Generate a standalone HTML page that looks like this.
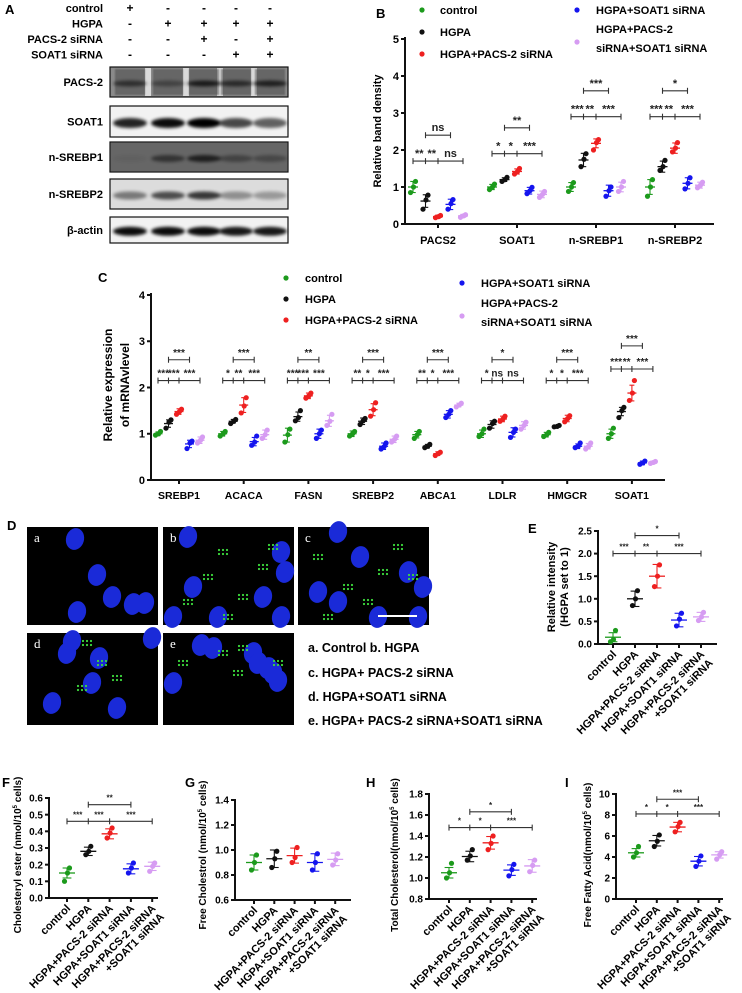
<!DOCTYPE html>
<html><head><meta charset="utf-8">
<style>
html,body{margin:0;padding:0;background:#fff;}
svg{display:block;font-family:"Liberation Sans",Arial,sans-serif;font-weight:bold;}
</style></head>
<body>
<svg id="fig" width="742" height="993" viewBox="0 0 742 993" xmlns="http://www.w3.org/2000/svg">
<defs>
<filter id="blur1" x="-20%" y="-50%" width="140%" height="200%"><feGaussianBlur stdDeviation="1.6"/></filter>
<filter id="blurc"><feGaussianBlur stdDeviation="0.8"/></filter>
</defs>
<g id="panelA"></g>
<g id="panelB"></g>
<g id="panelC"></g>
<g id="panelD"></g>
<g id="panelE"></g>
<g id="panelF"></g>
<g id="panelG"></g>
<g id="panelH"></g>
<g id="panelI"></g>
</svg>
<script>
// ===== shared =====
const groupColors = ["#1c9a1c", "#111111", "#ee2020", "#1515ee", "#d69cf2"];
const groupNames = ["control", "HGPA", "HGPA+PACS-2 siRNA", "HGPA+SOAT1 siRNA", "HGPA+PACS-2 siRNA+SOAT1 siRNA"];

// ===== Panel B data =====
const bCategories = ["PACS2", "SOAT1", "n-SREBP1", "n-SREBP2"];
const bMeans = [[1.0,0.62,0.2,0.53,0.22],[1.0,1.2,1.42,0.9,0.8],[1.0,1.73,2.18,0.9,1.0],[1.0,1.55,2.05,1.1,1.05]];
const bSD = [[0.15,0.17,0.04,0.14,0.04],[0.07,0.05,0.07,0.09,0.09],[0.12,0.18,0.12,0.15,0.13],[0.2,0.15,0.14,0.15,0.08]];
const bPoints = [
 [[0.85,1.0,1.15],[0.4,0.65,0.78],[0.17,0.2,0.23],[0.4,0.55,0.66],[0.18,0.22,0.25]],
 [[0.93,1.0,1.08],[1.15,1.2,1.26],[1.35,1.42,1.5],[0.82,0.9,0.99],[0.72,0.8,0.88]],
 [[0.88,1.0,1.12],[1.55,1.75,1.9],[2.0,2.2,2.28],[0.75,0.9,1.0],[0.88,1.0,1.15]],
 [[0.75,1.0,1.2],[1.45,1.55,1.72],[1.95,2.05,2.2],[0.95,1.1,1.25],[0.98,1.05,1.13]]];
const bTicks = [0,1,2,3,4,5];
const bSig = [
 {low:1.7, lowLabels:["**","**","ns"], up:2.4, upLabel:"ns"},
 {low:1.9, lowLabels:["*","*","***"], up:2.6, upLabel:"**"},
 {low:2.9, lowLabels:["***","**","***"], up:3.6, upLabel:"***"},
 {low:2.9, lowLabels:["***","**","***"], up:3.6, upLabel:"*"}];

// ===== Panel C data =====
const cCategories = ["SREBP1","ACACA","FASN","SREBP2","ABCA1","LDLR","HMGCR","SOAT1"];
const cMeans = [[1,1.22,1.48,0.78,0.86],[1,1.27,1.62,0.83,0.98],[0.97,1.37,1.82,1.0,1.28],[1,1.27,1.52,0.73,0.88],
 [0.98,0.73,0.57,1.42,1.62],[1,1.2,1.32,1.03,1.18],[0.98,1.16,1.33,0.73,0.73],[1,1.48,1.88,0.37,0.38]];
const cSD = [[0.04,0.08,0.06,0.08,0.07],[0.05,0.04,0.16,0.09,0.1],[0.15,0.1,0.06,0.1,0.12],[0.06,0.07,0.13,0.07,0.07],
 [0.07,0.04,0.04,0.08,0.04],[0.08,0.08,0.06,0.1,0.08],[0.05,0.02,0.07,0.05,0.06],[0.1,0.09,0.17,0.04,0.03]];
const cPoints = [
 [[0.97,1.0,1.05],[1.12,1.25,1.3],[1.42,1.48,1.53],[0.68,0.8,0.84],[0.8,0.86,0.93]],
 [[0.95,1.0,1.05],[1.22,1.27,1.31],[1.45,1.6,1.78],[0.75,0.82,0.95],[0.9,0.98,1.08]],
 [[0.82,0.98,1.1],[1.28,1.35,1.5],[1.77,1.82,1.88],[0.9,1.0,1.08],[1.18,1.27,1.42]],
 [[0.95,1.0,1.05],[1.2,1.28,1.33],[1.38,1.52,1.67],[0.67,0.72,0.8],[0.82,0.88,0.95]],
 [[0.9,0.98,1.05],[0.7,0.73,0.77],[0.53,0.57,0.6],[1.35,1.42,1.5],[1.58,1.62,1.66]],
 [[0.94,1.0,1.1],[1.12,1.22,1.27],[1.27,1.32,1.38],[0.92,1.03,1.1],[1.1,1.18,1.25]],
 [[0.94,0.98,1.03],[1.15,1.16,1.18],[1.26,1.33,1.39],[0.7,0.73,0.8],[0.67,0.73,0.8]],
 [[0.9,1.0,1.12],[1.35,1.5,1.57],[1.72,1.88,2.15],[0.34,0.37,0.41],[0.36,0.38,0.4]]];
const cTicks = [0,1,2,3,4];
const cSig = [
 {low:2.15, lowLabels:["***","***","***"], up:2.6, upLabel:"***"},
 {low:2.15, lowLabels:["*","**","***"], up:2.6, upLabel:"***"},
 {low:2.15, lowLabels:["***","***","***"], up:2.6, upLabel:"**"},
 {low:2.15, lowLabels:["**","*","***"], up:2.6, upLabel:"***"},
 {low:2.15, lowLabels:["**","*","***"], up:2.6, upLabel:"***"},
 {low:2.15, lowLabels:["*","ns","ns"], up:2.6, upLabel:"*"},
 {low:2.15, lowLabels:["*","*","***"], up:2.6, upLabel:"***"},
 {low:2.4, lowLabels:["***","**","***"], up:2.9, upLabel:"***"}];

// ===== Panels E-I data =====
const eMeans = [0.15,1.0,1.5,0.53,0.6];
const eSD = [0.1,0.17,0.26,0.15,0.1];
const ePoints = [[0.05,0.1,0.3],[0.85,1.0,1.18],[1.27,1.5,1.75],[0.4,0.55,0.68],[0.52,0.6,0.7]];
const eTicks = [0,0.5,1.0,1.5,2.0,2.5];

const fMeans = [0.15,0.28,0.385,0.175,0.19];
const fSD = [0.03,0.025,0.03,0.03,0.025];
const fPoints = [[0.1,0.15,0.18],[0.26,0.28,0.31],[0.36,0.39,0.42],[0.15,0.18,0.21],[0.16,0.19,0.21]];
const fTicks = [0.0,0.1,0.2,0.3,0.4,0.5,0.6];

const gMeans = [0.9,0.93,0.955,0.9,0.925];
const gSD = [0.06,0.07,0.06,0.07,0.05];
const gPoints = [[0.84,0.9,0.96],[0.86,0.93,0.99],[0.9,0.94,1.02],[0.84,0.9,0.97],[0.88,0.92,0.97]];
const gTicks = [0.6,0.8,1.0,1.2,1.4];

const hMeans = [1.05,1.205,1.335,1.075,1.115];
const hSD = [0.05,0.05,0.06,0.05,0.06];
const hPoints = [[1.0,1.05,1.14],[1.17,1.21,1.27],[1.27,1.33,1.4],[1.02,1.08,1.13],[1.06,1.12,1.17]];
const hTicks = [0.8,1.0,1.2,1.4,1.6,1.8];

const iMeans = [4.4,5.55,6.85,3.6,4.2];
const iSD = [0.4,0.5,0.45,0.45,0.3];
const iPoints = [[4.0,4.4,5.0],[5.0,5.5,6.1],[6.4,6.9,7.3],[3.1,3.6,4.1],[3.8,4.2,4.5]];
const iTicks = [0,2,4,6,8,10];

const ns = "http://www.w3.org/2000/svg";
function mk(parent, tag, attrs, text) {
  const el = document.createElementNS(ns, tag);
  for (const k in attrs) el.setAttribute(k, attrs[k]);
  if (text !== undefined) el.textContent = text;
  parent.appendChild(el);
  return el;
}
function label(parent, x, y, txt, size, name) {
  const t = mk(parent, "text", {x:x, y:y, "font-size":size});
  t.textContent = txt;
  
  
  return t;
}

function drawGroup(g, cx, ys, mean, sd, pts, color, halfW, name) {
  const grp = mk(g, "g", {});
  
  
  const jit = [-2.5, 0.5, 2.5];
  pts.forEach((v, k) => {
    const c = mk(grp, "circle", {cx: cx + jit[k], cy: ys(v), r: 2.6, fill: color});
    
    
  });
  mk(grp, "line", {x1: cx - halfW, x2: cx + halfW, y1: ys(mean), y2: ys(mean), stroke: color, "stroke-width": 1.3});
  mk(grp, "line", {x1: cx, x2: cx, y1: ys(mean - sd), y2: ys(mean + sd), stroke: color, "stroke-width": 1.1});
  mk(grp, "line", {x1: cx - halfW*0.55, x2: cx + halfW*0.55, y1: ys(mean + sd), y2: ys(mean + sd), stroke: color, "stroke-width": 1.1});
  mk(grp, "line", {x1: cx - halfW*0.55, x2: cx + halfW*0.55, y1: ys(mean - sd), y2: ys(mean - sd), stroke: color, "stroke-width": 1.1});
}

function bracket(g, xs, y, labels, size, name) {
  const b = mk(g, "g", {});
  
  
  mk(b, "line", {x1: xs[0], x2: xs[xs.length-1], y1: y, y2: y, stroke: "#333", "stroke-width": 1.1});
  xs.forEach(x => mk(b, "line", {x1: x, x2: x, y1: y-3, y2: y+3, stroke: "#333", "stroke-width": 1.1}));
  labels.forEach((l, k) => {
    const t = mk(b, "text", {x: (xs[k]+xs[k+1])/2, y: y - 4, "font-size": size, "text-anchor": "middle", fill: "#222"});
    t.textContent = l;
  });
}

function axisY(g, x, ys, ticks, fmt, size, top, bottom) {
  const a = mk(g, "g", {});
  
  
  mk(a, "line", {x1: x, x2: x, y1: top, y2: bottom, stroke: "#111", "stroke-width": 2});
  ticks.forEach(t => {
    mk(a, "line", {x1: x-4, x2: x, y1: ys(t), y2: ys(t), stroke: "#111", "stroke-width": 2});
    const tx = mk(a, "text", {x: x-6, y: ys(t)+size*0.36, "font-size": size, "text-anchor": "end"});
    tx.textContent = fmt(t);
  });
}

// ===== Panel A =====
(function(){
  const g = document.getElementById("panelA");
  label(g, 5, 14, "A", 13, "panel-a-label");
  const rows = ["control","HGPA","PACS-2 siRNA","SOAT1 siRNA"];
  const signs = [["+","-","-","-","-"],["-","+","+","+","+"],["-","-","+","-","+"],["-","-","-","+","+"]];
  const lanes = [130,168,204,236,270];
  rows.forEach((r,i) => {
    const y = 12 + i*15.5;
    const t = mk(g, "text", {x: 103, y: y, "font-size": 11, "text-anchor": "end"}, r);
    
    
    signs[i].forEach((s,j) => mk(g, "text", {x: lanes[j], y: y, "font-size": 12, "text-anchor": "middle"}, s));
  });
  const blots = [
    {name:"PACS-2", y:67, h:30, bg:"#8a8a8a", band:[0.55,0.35,0.75,0.6,0.7], bh:6},
    {name:"SOAT1", y:106, h:31, bg:"#f2f2f2", band:[0.85,0.95,1.0,0.7,0.6], bh:10},
    {name:"n-SREBP1", y:142, h:30, bg:"#7a7a7a", band:[0.05,0.5,0.7,0.35,0.3], bh:7},
    {name:"n-SREBP2", y:179, h:30, bg:"#dcdcdc", band:[0.45,0.65,0.75,0.35,0.3], bh:8},
    {name:"β-actin", y:217, h:26, bg:"#f2f2f2", band:[0.95,0.95,0.95,0.9,0.9], bh:9}];
  blots.forEach(b => {
    const bg = mk(g, "g", {});
    
    
    mk(bg, "rect", {x:110, y:b.y, width:178, height:b.h, fill:b.bg, stroke:"#111", "stroke-width":1.2});
    if (b.name === "PACS-2") {
      [148,186,220,254].forEach(x => mk(bg, "rect", {x:x-3, y:b.y+1, width:6, height:b.h-2, fill:"#dadada"}));
      lanes.forEach(x => mk(bg, "rect", {x:x-15, y:b.y+2, width:30, height:b.h-4, fill:"#4a4a4a", opacity:0.55, filter:"url(#blurc)"}));
    }
    if (b.name === "n-SREBP1") mk(bg, "rect", {x:111, y:b.y+1, width:176, height:b.h-2, fill:"#666"});
    b.band.forEach((v,j) => {
      mk(bg, "ellipse", {cx:lanes[j], cy:b.y + b.h*0.55, rx:17, ry:b.bh/2, fill:"#000", opacity:v, filter:"url(#blur1)"});
    });
    mk(g, "text", {x:103, y:b.y + b.h/2 + 4, "font-size":11, "text-anchor":"end"}, b.name);
  });
})();

// ===== Panel B =====
(function(){
  const g = document.getElementById("panelB");
  label(g, 376, 18, "B", 13, "panel-b-label");
  const y0 = 224, y5 = 39;
  const ys = v => y0 - (v/5)*(y0-y5);
  const axX = 405, axEnd = 714;
  const gx = i => 438 + i*79;
  axisY(g, axX, ys, bTicks, v => String(v), 11, 37, y0);
  mk(g, "line", {x1:axX, x2:axEnd, y1:y0, y2:y0, stroke:"#111", "stroke-width":2});
  bCategories.forEach((c,i) => {
    mk(g, "line", {x1:gx(i), x2:gx(i), y1:y0, y2:y0+4, stroke:"#111", "stroke-width":2});
    const t = mk(g, "text", {x:gx(i), y:y0+20, "font-size":11, "text-anchor":"middle"}, c);
    
    
    for (let s=0; s<5; s++) drawGroup(g, gx(i) + (s-2)*12.5, ys, bMeans[i][s], bSD[i][s], bPoints[i][s], groupColors[s], 5, 'b-group-' + i + '-' + s);
    const sg = bSig[i];
    const xo = k => gx(i) + (k-2)*12.5;
    bracket(g, [xo(0),xo(1),xo(2),xo(4)], ys(sg.low), sg.lowLabels, 11, 'b-significance-lower');
    bracket(g, [xo(1),xo(3)], ys(sg.up), [sg.upLabel], 11, 'b-significance-upper');
  });
  const yt = mk(g, "text", {x:0, y:0, "font-size":11, "text-anchor":"middle", transform:"translate(381,131) rotate(-90)"}, "Relative band density");
  
  
  const leg = mk(g, "g", {});
  
  
  const L = [[422,440,14,["control"],0],[422,440,36,["HGPA"],1],[422,440,58,["HGPA+PACS-2 siRNA"],2],[577,596,14,["HGPA+SOAT1 siRNA"],3],[577,596,42,["HGPA+PACS-2","siRNA+SOAT1 siRNA"],4]];
  L.forEach(l => {
    mk(leg, "circle", {cx:l[0], cy:l[2] - (l[3].length>1?0:4), r:2.6, fill:groupColors[l[4]]});
    l[3].forEach((s,k) => mk(leg, "text", {x:l[1], y:l[2] + (l[3].length>1 ? (k===0?-9:10) : 0), "font-size":11}, s));
  });
})();

// ===== Panel C =====
(function(){
  const g = document.getElementById("panelC");
  label(g, 98, 282, "C", 13, "panel-c-label");
  const y0 = 480, y4 = 295;
  const ys = v => y0 - (v/4)*(y0-y4);
  const axX = 151, axEnd = 665;
  const gx = i => 179 + i*64.7;
  axisY(g, axX, ys, cTicks, v => String(v), 11, 293, y0);
  mk(g, "line", {x1:axX, x2:axEnd, y1:y0, y2:y0, stroke:"#111", "stroke-width":2});
  cCategories.forEach((c,i) => {
    mk(g, "line", {x1:gx(i), x2:gx(i), y1:y0, y2:y0+4, stroke:"#111", "stroke-width":2});
    const t = mk(g, "text", {x:gx(i), y:y0+19, "font-size":10.5, "text-anchor":"middle"}, c);
    
    
    for (let s=0; s<5; s++) drawGroup(g, gx(i) + (s-2)*10.5, ys, cMeans[i][s], cSD[i][s], cPoints[i][s], groupColors[s], 4.5, 'c-group-' + i + '-' + s);
    const sg = cSig[i];
    const xo = k => gx(i) + (k-2)*10.5;
    bracket(g, [xo(0),xo(1),xo(2),xo(4)], ys(sg.low), sg.lowLabels, 10, 'c-significance-lower');
    bracket(g, [xo(1),xo(3)], ys(sg.up), [sg.upLabel], 10, 'c-significance-upper');
  });
  const yt = mk(g, "text", {x:0, y:0, "font-size":12, "text-anchor":"middle", transform:"translate(112,385) rotate(-90)"}, "Relative expression");
  
  
  mk(g, "text", {x:0, y:0, "font-size":12, "text-anchor":"middle", transform:"translate(129,385) rotate(-90)"}, "of mRNAvlevel");
  const leg = mk(g, "g", {});
  
  
  const L = [[286,305,282,["control"],0],[286,305,303,["HGPA"],1],[286,305,324,["HGPA+PACS-2 siRNA"],2],[462,481,287,["HGPA+SOAT1 siRNA"],3],[462,481,316,["HGPA+PACS-2","siRNA+SOAT1 siRNA"],4]];
  L.forEach(l => {
    mk(leg, "circle", {cx:l[0], cy:l[2] - (l[3].length>1?0:4), r:2.6, fill:groupColors[l[4]]});
    l[3].forEach((s,k) => mk(leg, "text", {x:l[1], y:l[2] + (l[3].length>1 ? (k===0?-9:10) : 0), "font-size":11}, s));
  });
})();

// ===== Panel D =====
(function(){
  const g = document.getElementById("panelD");
  label(g, 7, 530, "D", 13, "panel-d-label");
  const imgs = [["a",27,527],["b",163,527],["c",298,527],["d",27,633],["e",163,633]];
  const nuclei = {
    a:[[48,12],[70,48],[85,70],[106,77],[50,85],[118,76]],
    b:[[25,10],[118,25],[122,45],[30,60],[100,70],[55,95],[118,95],[10,90]],
    c:[[40,5],[62,30],[110,45],[40,75],[80,90],[120,90],[125,60],[20,65]],
    d:[[45,8],[40,20],[72,25],[65,50],[25,70],[90,75],[125,5]],
    e:[[38,12],[50,15],[90,20],[95,30],[105,35],[110,40],[115,48],[10,50]]};
  const green = {a:[],b:[[60,25],[100,40],[45,50],[80,70],[25,75],[110,20],[65,90]],
    c:[[20,30],[85,45],[50,60],[100,20],[70,75],[30,90],[115,50]],
    d:[[60,10],[75,30],[55,55],[90,45]],e:[[20,30],[60,20],[80,15],[75,40],[115,30]]};
  imgs.forEach(im => {
    const ig = mk(g, "g", {});
    
    
    const h = im[0]<"d"?98:92;
    mk(ig, "rect", {x:im[1], y:im[2], width:131, height:h, fill:"#000"});
    const cg = mk(ig, "g", {});
    nuclei[im[0]].forEach(n => {
      const cy = Math.min(im[2]+n[1], im[2]+h-8);
      mk(cg, "ellipse", {cx:im[1]+n[0], cy:cy, rx:9, ry:11, fill:"#1a2ad8", transform:`rotate(15 ${im[1]+n[0]} ${cy})`});
    });
    green[im[0]].forEach(p => {
      for (let k=0;k<6;k++) mk(ig, "circle", {cx:im[1]+p[0]+(k%3)*4-4, cy:im[2]+p[1]+Math.floor(k/3)*4-2, r:1.1, fill:"#3ddc3d"});
    });
    mk(ig, "text", {x:im[1]+7, y:im[2]+15, "font-size":13, fill:"#fff", "font-family":"Liberation Serif, serif", "font-weight":"normal"}, im[0]);
  });
  mk(g, "line", {x1:378, x2:417, y1:616, y2:616, stroke:"#fff", "stroke-width":2});
  const legTxt = [["a. Control   b. HGPA",652],["c. HGPA+ PACS-2 siRNA",677],["d. HGPA+SOAT1 siRNA",701],["e. HGPA+ PACS-2 siRNA+SOAT1 siRNA",725]];
  legTxt.forEach(l => {
    const t = mk(g, "text", {x:308, y:l[1], "font-size":12.5, "xml:space":"preserve"}, l[0]);
    
    
  });
})();

// ===== small dot plots E-I =====
function smallPlot(id, o) {
  const g = document.getElementById(id);
  label(g, o.lx, o.ly, o.letter, 13, 'panel-' + o.letter.toLowerCase() + '-label');
  const ys = v => o.y0 - (v - o.vmin)/(o.vmax - o.vmin)*(o.y0 - o.yTop);
  const gx = i => o.first + i*o.step;
  axisY(g, o.axX, ys, o.ticks, o.fmt, 10, o.yTop - 1, o.y0);
  mk(g, "line", {x1:o.axX, x2:o.axEnd, y1:o.y0, y2:o.y0, stroke:"#111", "stroke-width":2});
  const names = ["control","HGPA","HGPA+PACS-2 siRNA","HGPA+SOAT1 siRNA"];
  for (let i=0;i<5;i++) {
    mk(g, "line", {x1:gx(i), x2:gx(i), y1:o.y0, y2:o.y0+4, stroke:"#111", "stroke-width":2});
    drawGroup(g, gx(i), ys, o.means[i], o.sd[i], o.pts[i], groupColors[i], 8, o.letter.toLowerCase() + '-group-' + i);
    const tx = gx(i) + 4, ty = o.y0 + 11;
    if (i < 4) {
      const t = mk(g, "text", {x:0, y:0, "font-size":11, "text-anchor":"end", transform:`translate(${tx},${ty}) rotate(-45)`}, names[i]);
      
      
    } else {
      const t = mk(g, "text", {x:0, y:0, "font-size":11, "text-anchor":"end", transform:`translate(${tx},${ty}) rotate(-45)`}, "HGPA+PACS-2 siRNA");
      
      
      mk(g, "text", {x:0, y:12, "font-size":11, "text-anchor":"end", transform:`translate(${tx},${ty}) rotate(-45)`}, "+SOAT1 siRNA");
    }
  }
  if (o.sigLowLabels) {
    bracket(g, [gx(0),gx(1),gx(2),gx(4)], ys(o.sigLow), o.sigLowLabels, 8, 'significance-lower');
    bracket(g, [gx(1),gx(3)], ys(o.sigUp), [o.sigUpLabel], 8, 'significance-upper');
  }
  o.titles.forEach((tt,k) => {
    const t = mk(g, "text", {x:0, y:0, "font-size":o.tsize, "text-anchor":"middle", transform:`translate(${o.tx + k*13},${o.ty}) rotate(-90)`});
    t.innerHTML = tt;
    
    
  });
}
const f1 = v => v.toFixed(1);
smallPlot("panelE", {letter:"E", lx:528, ly:533, axX:598, axEnd:717, y0:644, yTop:531, vmin:0, vmax:2.5, first:613, step:22,
  ticks:eTicks, fmt:f1, means:eMeans, sd:eSD, pts:ePoints, sigLow:2.0, sigLowLabels:["***","**","***"], sigUp:2.4, sigUpLabel:"*",
  titles:["Relative intensity","(HGPA set to 1)"], tx:555, ty:587, tsize:11});
smallPlot("panelF", {letter:"F", lx:2, ly:787, axX:49, axEnd:158, y0:898, yTop:798, vmin:0, vmax:0.6, first:67, step:21.3,
  ticks:fTicks, fmt:f1, means:fMeans, sd:fSD, pts:fPoints, sigLow:0.46, sigLowLabels:["***","***","***"], sigUp:0.56, sigUpLabel:"**",
  titles:['Cholesteryl ester (nmol/10<tspan font-size="6" dy="-4">5</tspan><tspan dy="4"> cells)</tspan>'], tx:21, ty:855, tsize:10});
smallPlot("panelG", {letter:"G", lx:185, ly:787, axX:235, axEnd:351, y0:900, yTop:800, vmin:0.6, vmax:1.4, first:254, step:20.3,
  ticks:gTicks, fmt:f1, means:gMeans, sd:gSD, pts:gPoints, sigLowLabels:null,
  titles:['Free Cholestrol (nmol/10<tspan font-size="6" dy="-4">5</tspan><tspan dy="4"> cells)</tspan>'], tx:206, ty:855, tsize:10});
smallPlot("panelH", {letter:"H", lx:366, ly:787, axX:429, axEnd:537, y0:899, yTop:794, vmin:0.8, vmax:1.8, first:449, step:20.8,
  ticks:hTicks, fmt:f1, means:hMeans, sd:hSD, pts:hPoints, sigLow:1.48, sigLowLabels:["*","*","***"], sigUp:1.63, sigUpLabel:"*",
  titles:['Total Cholesterol(nmol/10<tspan font-size="6" dy="-4">5</tspan><tspan dy="4"> cells)</tspan>'], tx:398, ty:855, tsize:10});
smallPlot("panelI", {letter:"I", lx:565, ly:787, axX:616, axEnd:723, y0:899, yTop:794, vmin:0, vmax:10, first:636, step:20.8,
  ticks:iTicks, fmt:v => String(v), means:iMeans, sd:iSD, pts:iPoints, sigLow:8.1, sigLowLabels:["*","*","***"], sigUp:9.5, sigUpLabel:"***",
  titles:['Free Fatty Acid(nmol/10<tspan font-size="6" dy="-4">5</tspan><tspan dy="4"> cells)</tspan>'], tx:591, ty:855, tsize:10});
</script>
</body></html>
